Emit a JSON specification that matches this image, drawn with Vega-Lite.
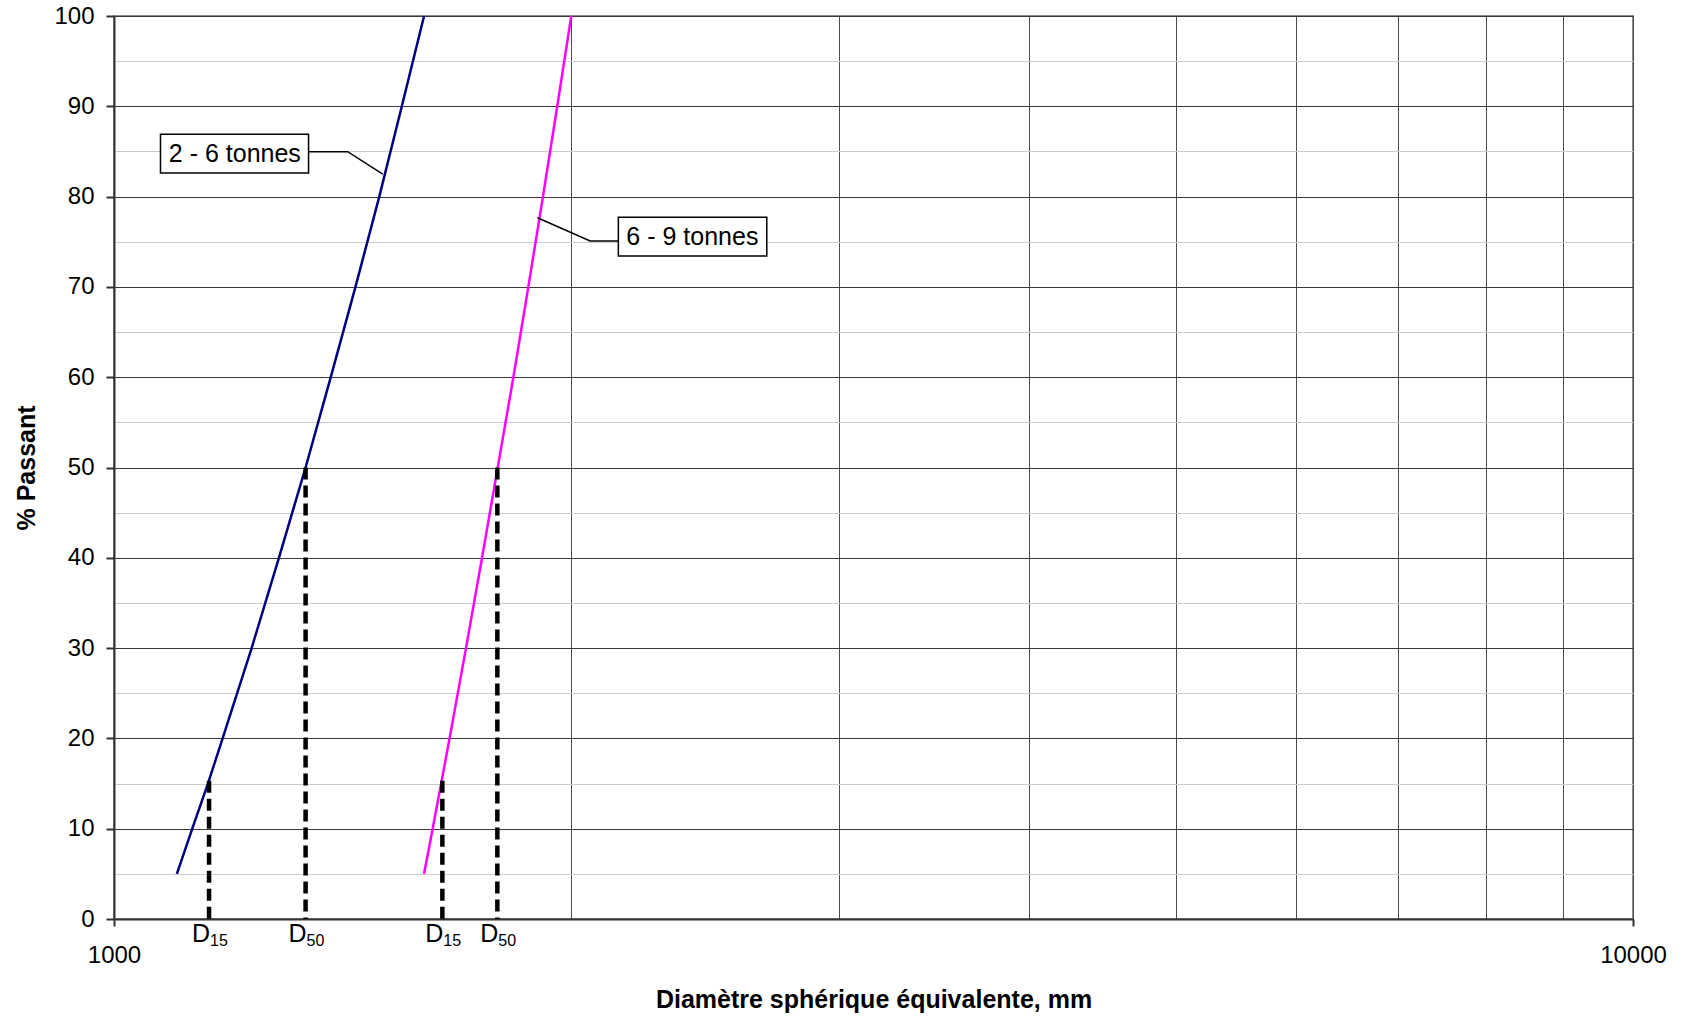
{
  "$schema": "https://vega.github.io/schema/vega-lite/v6.json",
  "width": 1519,
  "height": 903,
  "autosize": {"type": "none"},
  "padding": {"left": 114, "top": 16, "right": 53, "bottom": 99},
  "background": "white",
  "view": {"stroke": "#8c8c8c", "strokeWidth": 2},
  "config": {
    "font": "Liberation Sans",
    "axis": {"labelFont": "Liberation Sans", "titleFont": "Liberation Sans", "labelColor": "#000", "titleColor": "#000"}
  },
  "datasets": {
    "curves": [
      {"serie": "2 - 6 tonnes", "d": 1100, "p": 5},
      {"serie": "2 - 6 tonnes", "d": 1126, "p": 10},
      {"serie": "2 - 6 tonnes", "d": 1153, "p": 15},
      {"serie": "2 - 6 tonnes", "d": 1179, "p": 20},
      {"serie": "2 - 6 tonnes", "d": 1232, "p": 30},
      {"serie": "2 - 6 tonnes", "d": 1284, "p": 40},
      {"serie": "2 - 6 tonnes", "d": 1337, "p": 50},
      {"serie": "2 - 6 tonnes", "d": 1389, "p": 60},
      {"serie": "2 - 6 tonnes", "d": 1442, "p": 70},
      {"serie": "2 - 6 tonnes", "d": 1495, "p": 80},
      {"serie": "2 - 6 tonnes", "d": 1547, "p": 90},
      {"serie": "2 - 6 tonnes", "d": 1600, "p": 100},
      {"serie": "6 - 9 tonnes", "d": 1600, "p": 5},
      {"serie": "6 - 9 tonnes", "d": 1621, "p": 10},
      {"serie": "6 - 9 tonnes", "d": 1642, "p": 15},
      {"serie": "6 - 9 tonnes", "d": 1663, "p": 20},
      {"serie": "6 - 9 tonnes", "d": 1705, "p": 30},
      {"serie": "6 - 9 tonnes", "d": 1747, "p": 40},
      {"serie": "6 - 9 tonnes", "d": 1789, "p": 50},
      {"serie": "6 - 9 tonnes", "d": 1832, "p": 60},
      {"serie": "6 - 9 tonnes", "d": 1874, "p": 70},
      {"serie": "6 - 9 tonnes", "d": 1916, "p": 80},
      {"serie": "6 - 9 tonnes", "d": 1958, "p": 90},
      {"serie": "6 - 9 tonnes", "d": 2000, "p": 100}
    ],
    "dlines": [
      {"d": 1155, "p": 15.3, "p0": 0, "sub": "15"},
      {"d": 1337, "p": 50, "p0": 0, "sub": "50"},
      {"d": 1645, "p": 15.3, "p0": 0, "sub": "15"},
      {"d": 1788, "p": 50, "p0": 0, "sub": "50"}
    ],
    "leaders": [
      {"grp": "a", "ord": 1, "d": 1343, "p": 84.97},
      {"grp": "a", "ord": 2, "d": 1425, "p": 84.97},
      {"grp": "a", "ord": 3, "d": 1503, "p": 82.5},
      {"grp": "b", "ord": 1, "d": 2148, "p": 75.08},
      {"grp": "b", "ord": 2, "d": 2058, "p": 75.08},
      {"grp": "b", "ord": 3, "d": 1900, "p": 77.66}
    ],
    "boxes": [
      {"label": "2 - 6 tonnes", "d": 1073, "d2": 1343, "p": 82.6, "p2": 86.9, "dc": 1201, "pc": 84.75},
      {"label": "6 - 9 tonnes", "d": 2148, "d2": 2690, "p": 73.42, "p2": 77.7, "dc": 2403, "pc": 75.56}
    ]
  },
  "layer": [
    {
      "data": {"name": "curves"},
      "mark": {"type": "line", "strokeWidth": 2.5},
      "encoding": {
        "x": {
          "field": "d", "type": "quantitative",
          "scale": {"type": "log", "domain": [1000, 10000], "nice": false},
          "axis": {
            "values": [1000, 2000, 3000, 4000, 5000, 6000, 7000, 8000, 9000, 10000],
            "format": "d",
            "labelExpr": "datum.value == 1000 || datum.value == 10000 ? datum.label : ''",
            "labelFontSize": 24,
            "labelPadding": 17,
            "labelFlush": false,
            "labelOverlap": false,
            "grid": true,
            "gridColor": "#4d4d4d",
            "gridWidth": 1,
            "tickOpacity": {"condition": {"test": "datum.value == 1000 || datum.value == 10000", "value": 1}, "value": 0},
            "tickSize": 7,
            "tickWidth": 2,
            "tickColor": "#333333",
            "domainColor": "#333333",
            "domainWidth": 2,
            "title": "Diamètre sphérique équivalente, mm",
            "titleFontSize": 25,
            "titleFontWeight": "bold",
            "titlePadding": 20
          }
        },
        "y": {
          "field": "p", "type": "quantitative",
          "scale": {"domain": [0, 100], "nice": false},
          "axis": {
            "values": [0, 5, 10, 15, 20, 25, 30, 35, 40, 45, 50, 55, 60, 65, 70, 75, 80, 85, 90, 95, 100],
            "labelExpr": "datum.value % 10 == 0 ? datum.label : ''",
            "labelFontSize": 24,
            "labelPadding": 12,
            "labelFlush": false,
            "labelOverlap": false,
            "grid": true,
            "gridColor": {"condition": {"test": "datum.value % 10 == 0", "value": "#3a3a3a"}, "value": "#cccccc"},
            "gridWidth": 1,
            "tickOpacity": {"condition": {"test": "datum.value % 10 == 0", "value": 1}, "value": 0},
            "tickSize": 8,
            "tickWidth": 2,
            "tickColor": "#333333",
            "domainColor": "#333333",
            "domainWidth": 2,
            "title": "% Passant",
            "titleFontSize": 25,
            "titleFontWeight": "bold",
            "titlePadding": 14
          }
        },
        "color": {
          "field": "serie", "type": "nominal",
          "scale": {"domain": ["2 - 6 tonnes", "6 - 9 tonnes"], "range": ["#000080", "#ff00ff"]},
          "legend": null
        }
      }
    },
    {
      "data": {"name": "dlines"},
      "mark": {"type": "rule", "strokeWidth": 4.5, "strokeDash": [12, 6], "color": "#000000"},
      "encoding": {
        "x": {"field": "d", "type": "quantitative"},
        "y": {"field": "p", "type": "quantitative"},
        "y2": {"field": "p0"}
      }
    },
    {
      "data": {"name": "dlines"},
      "mark": {"type": "text", "text": "D", "align": "right", "baseline": "alphabetic", "fontSize": 25, "dy": 23, "dx": 1, "color": "#000000"},
      "encoding": {
        "x": {"field": "d", "type": "quantitative"},
        "y": {"field": "p0", "type": "quantitative"}
      }
    },
    {
      "data": {"name": "dlines"},
      "mark": {"type": "text", "align": "left", "baseline": "alphabetic", "fontSize": 16, "dy": 27, "dx": 1, "color": "#000000"},
      "encoding": {
        "x": {"field": "d", "type": "quantitative"},
        "y": {"field": "p0", "type": "quantitative"},
        "text": {"field": "sub"}
      }
    },
    {
      "data": {"name": "leaders"},
      "mark": {"type": "line", "strokeWidth": 1.5, "color": "#000000"},
      "encoding": {
        "x": {"field": "d", "type": "quantitative"},
        "y": {"field": "p", "type": "quantitative"},
        "detail": {"field": "grp"},
        "order": {"field": "ord"}
      }
    },
    {
      "data": {"name": "boxes"},
      "mark": {"type": "rect", "fill": "#ffffff", "stroke": "#000000", "strokeWidth": 1.5},
      "encoding": {
        "x": {"field": "d", "type": "quantitative"},
        "x2": {"field": "d2"},
        "y": {"field": "p", "type": "quantitative"},
        "y2": {"field": "p2"}
      }
    },
    {
      "data": {"name": "boxes"},
      "mark": {"type": "text", "align": "center", "baseline": "middle", "fontSize": 25, "color": "#000000"},
      "encoding": {
        "x": {"field": "dc", "type": "quantitative"},
        "y": {"field": "pc", "type": "quantitative"},
        "text": {"field": "label"}
      }
    }
  ]
}
